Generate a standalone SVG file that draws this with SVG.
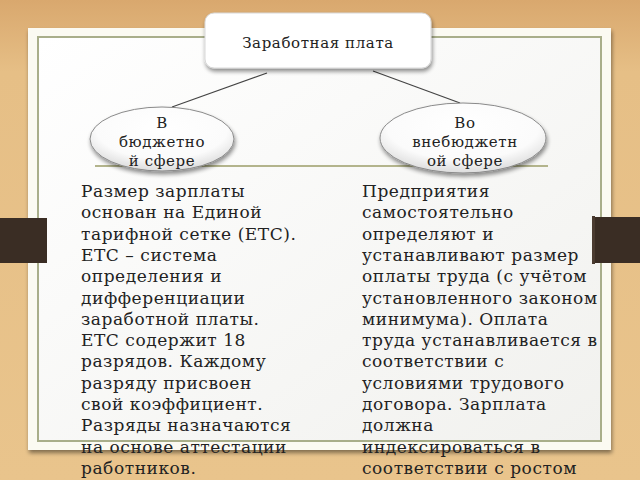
<svg xmlns="http://www.w3.org/2000/svg" width="640" height="480" viewBox="0 0 640 480">
<defs>
<linearGradient id="wood" x1="0" y1="0" x2="0" y2="1">
<stop offset="0" stop-color="#d9a86e"/>
<stop offset="0.15" stop-color="#e6bf86"/>
<stop offset="1" stop-color="#e9c48c"/>
</linearGradient>
<linearGradient id="paper" x1="0" y1="0" x2="1" y2="1">
<stop offset="0" stop-color="#ffffff"/>
<stop offset="1" stop-color="#f1f1ee"/>
</linearGradient>
<radialGradient id="ell" cx="0.5" cy="0.35" r="0.65">
<stop offset="0" stop-color="#ffffff"/>
<stop offset="0.7" stop-color="#fbfbfb"/>
<stop offset="1" stop-color="#dcdcdc"/>
</radialGradient>
<filter id="sh" x="-10%" y="-10%" width="130%" height="140%">
<feGaussianBlur in="SourceAlpha" stdDeviation="2"/>
<feOffset dx="1" dy="3" result="b"/>
<feComponentTransfer><feFuncA type="linear" slope="0.45"/></feComponentTransfer>
<feMerge><feMergeNode/><feMergeNode in="SourceGraphic"/></feMerge>
</filter>
</defs>
<style>
.body{font-family:"DejaVu Serif","Liberation Serif",serif;font-size:17px;letter-spacing:0.55px;fill:#222}
.node{font-family:"DejaVu Serif","Liberation Serif",serif;font-size:15px;letter-spacing:0.6px;fill:#222;text-anchor:middle}
.conn{stroke:#444;stroke-width:1.2;fill:none}
.tab{fill:#3a2d24}
</style>
<rect width="640" height="480" fill="url(#wood)"/>
<g id="paper-sheet">
<rect x="28" y="28" width="583" height="422" fill="#fbfaf2" filter="url(#sh)"/>
<rect x="38" y="37" width="563" height="404" fill="url(#paper)" stroke="#a9ae8a" stroke-width="2"/>
<line x1="95" y1="166" x2="548" y2="166" stroke="#b3b48c" stroke-width="2"/>
</g>
<g id="tabs">
<rect class="tab" x="0" y="218" width="47" height="45"/>
<rect class="tab" x="593" y="217" width="47" height="46"/>
<rect x="592" y="216" width="3" height="48" fill="#4a3b30"/>
</g>
<g id="connectors">
<line class="conn" x1="267" y1="73" x2="172" y2="107"/>
<line class="conn" x1="373" y1="71" x2="460" y2="103"/>
</g>
<g id="node-top">
<rect x="205" y="13" width="226" height="55" rx="9" fill="#ffffff" stroke="#d8d8d8" stroke-width="1" filter="url(#sh)"/>
<text class="node" x="318" y="48">Заработная плата</text>
</g>
<g id="node-left">
<ellipse cx="162" cy="139" rx="72" ry="32" fill="url(#ell)" stroke="#8a8a8a" stroke-width="1" filter="url(#sh)"/>
<text class="node" x="162" y="128">В</text>
<text class="node" x="162" y="147">бюджетно</text>
<text class="node" x="162" y="166">й сфере</text>
</g>
<g id="node-right">
<ellipse cx="463" cy="138" rx="83" ry="35" fill="url(#ell)" stroke="#8a8a8a" stroke-width="1" filter="url(#sh)"/>
<text class="node" x="465" y="128">Во</text>
<text class="node" x="465" y="147">внебюджетн</text>
<text class="node" x="465" y="166">ой сфере</text>
</g>
<g id="text-left">
<text class="body" x="81" y="197">Размер зарплаты</text>
<text class="body" x="81" y="218.3">основан на Единой</text>
<text class="body" x="81" y="239.6">тарифной сетке (ЕТС).</text>
<text class="body" x="81" y="260.9">ЕТС – система</text>
<text class="body" x="81" y="282.2">определения и</text>
<text class="body" x="81" y="303.5">дифференциации</text>
<text class="body" x="81" y="324.8">заработной платы.</text>
<text class="body" x="81" y="346.1">ЕТС содержит 18</text>
<text class="body" x="81" y="367.4">разрядов. Каждому</text>
<text class="body" x="81" y="388.7">разряду присвоен</text>
<text class="body" x="81" y="410">свой коэффициент.</text>
<text class="body" x="81" y="431.3">Разряды назначаются</text>
<text class="body" x="81" y="452.6">на основе аттестации</text>
<text class="body" x="81" y="473.9">работников.</text>
</g>
<g id="text-right">
<text class="body" x="362" y="197">Предприятия</text>
<text class="body" x="362" y="218.3">самостоятельно</text>
<text class="body" x="362" y="239.6">определяют и</text>
<text class="body" x="362" y="260.9">устанавливают размер</text>
<text class="body" x="362" y="282.2">оплаты труда (с учётом</text>
<text class="body" x="362" y="303.5">установленного законом</text>
<text class="body" x="362" y="324.8">минимума). Оплата</text>
<text class="body" x="362" y="346.1">труда устанавливается в</text>
<text class="body" x="362" y="367.4">соответствии с</text>
<text class="body" x="362" y="388.7">условиями трудового</text>
<text class="body" x="362" y="410">договора. Зарплата</text>
<text class="body" x="362" y="431.3">должна</text>
<text class="body" x="362" y="452.6">индексироваться в</text>
<text class="body" x="362" y="473.9">соответствии с ростом</text>
</g>
</svg>
